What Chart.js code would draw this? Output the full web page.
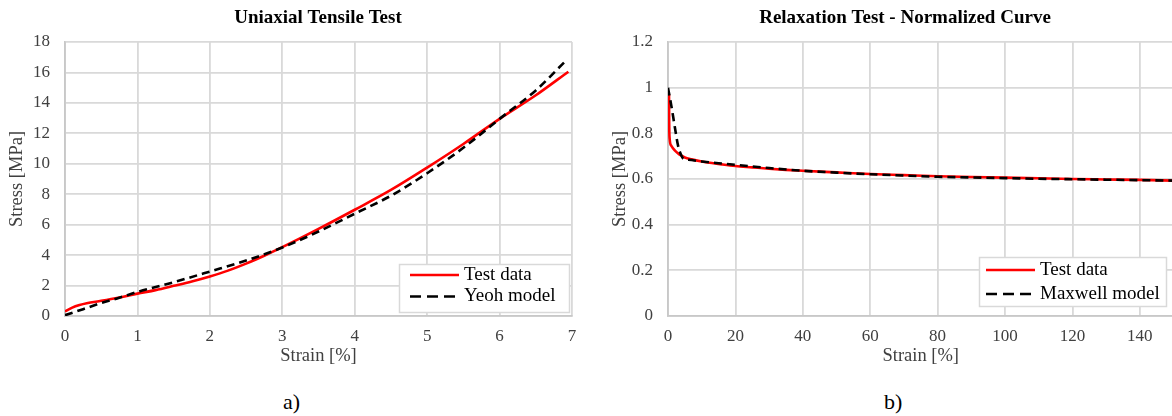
<!DOCTYPE html>
<html lang="en">
<head>
<meta charset="UTF-8">
<title>Uniaxial Tensile Test / Relaxation Test</title>
<style>
  body { margin: 0; background: #fff; overflow: hidden; width: 1172px; height: 416px; position: relative; }
  canvas { position: absolute; top: 0; }
  #tensile { left: 0; }
  #relax { left: 600px; }
  .cap { position: absolute; top: 390px; font: 22px "Liberation Serif", serif; line-height: 24px; color: #000; }
</style>
</head>
<body>
<canvas id="tensile" width="636" height="380"></canvas>
<canvas id="relax" width="610" height="380"></canvas>
<div class="cap" style="left:283px">a)</div>
<div class="cap" style="left:884px">b)</div>

<script src="https://cdn.jsdelivr.net/npm/chart.js"></script>
<script>
  // a) uniaxial tensile test
  const tensileStrain = [0, 0.1, 0.2, 0.3, 0.5, 0.75, 1.0, 1.25, 1.5, 1.75, 2.0, 2.25, 2.5, 2.75, 3.0, 3.5, 4.0, 4.5, 5.0, 5.5, 6.0, 6.5, 6.95];
  const tensileTest   = [0.3, 0.55, 0.72, 0.84, 1.0, 1.22, 1.47, 1.7, 1.98, 2.27, 2.6, 2.98, 3.44, 3.96, 4.52, 5.72, 6.98, 8.28, 9.75, 11.3, 12.95, 14.5, 16.05];
  const yeohStrain    = [0, 0.25, 0.5, 0.75, 1.0, 1.5, 2.0, 2.5, 3.0, 3.5, 4.0, 4.5, 5.0, 5.5, 6.0, 6.5, 6.9];
  const yeohStress    = [0.05, 0.45, 0.85, 1.2, 1.58, 2.22, 2.92, 3.64, 4.5, 5.55, 6.72, 7.9, 9.38, 11.05, 12.95, 14.82, 16.7];

  // b) relaxation test, normalized
  const relaxStrain   = [0.3, 0.35, 0.5, 1, 2, 3, 4, 5, 7, 10, 13, 16, 20, 25, 30, 35, 40, 50, 60, 70, 80, 90, 100, 110, 120, 130, 140, 150];
  const relaxTest     = [0.97, 0.85, 0.775, 0.745, 0.725, 0.712, 0.702, 0.694, 0.686, 0.677, 0.67, 0.664, 0.657, 0.651, 0.645, 0.64, 0.636, 0.629, 0.622, 0.617, 0.612, 0.609, 0.606, 0.603, 0.6, 0.598, 0.596, 0.593];
  const maxwellStrain = [0, 1, 2, 3, 4, 4.6, 6, 10, 15, 20, 25, 30, 40, 50, 60, 70, 80, 90, 100, 110, 120, 130, 140, 150];
  const maxwellStress = [1.0, 0.92, 0.83, 0.745, 0.702, 0.688, 0.684, 0.677, 0.669, 0.662, 0.655, 0.648, 0.636, 0.628, 0.621, 0.615, 0.61, 0.607, 0.604, 0.601, 0.599, 0.597, 0.595, 0.593];

  const serif = '"Liberation Serif", "Times New Roman", serif';
  const gridColor = '#d9d9d9';
  const tickColor = '#404040';

  const pts = (xs, ys) => xs.map((x, i) => ({ x: x, y: ys[i] }));

  // legend box drawn inside the plot, bottom right, like the Excel original
  const boxLegend = {
    id: 'boxLegend',
    afterDatasetsDraw(chart, args, o) {
      const { ctx, chartArea } = chart;
      const x = Math.round(chartArea.right - o.right - o.width);
      const y = Math.round(chartArea.bottom - o.bottom - o.height);
      ctx.save();
      ctx.fillStyle = '#fff';
      ctx.fillRect(x, y, o.width, o.height);
      ctx.strokeStyle = gridColor;
      ctx.lineWidth = 1.5;
      ctx.strokeRect(x + 0.5, y + 0.5, o.width, o.height);
      ctx.font = '19px ' + serif;
      ctx.textBaseline = 'middle';
      o.rows.forEach((ry, i) => {
        const ds = chart.data.datasets[i];
        ctx.beginPath();
        ctx.strokeStyle = ds.borderColor;
        ctx.lineWidth = ds.borderWidth;
        ctx.setLineDash(ds.borderDash ? [11, 6] : []);
        ctx.moveTo(x + o.lineStart, y + ry);
        ctx.lineTo(x + o.lineEnd, y + ry);
        ctx.stroke();
        ctx.setLineDash([]);
        ctx.fillStyle = '#000';
        ctx.fillText(ds.label, x + o.textX, y + ry);
      });
      ctx.restore();
    }
  };

  function makeChart(id, cfg) {
    return new Chart(document.getElementById(id), {
      type: 'scatter',
      data: {
        datasets: [{
          label: 'Test data',
          data: cfg.test,
          showLine: true,
          borderColor: '#ff0000',
          borderWidth: 2.6,
          pointRadius: 0,
          cubicInterpolationMode: 'monotone',
          order: 2
        }, {
          label: cfg.modelLabel,
          data: cfg.model,
          showLine: true,
          borderColor: '#000000',
          borderWidth: 2.6,
          borderDash: [8, 5],
          pointRadius: 0,
          cubicInterpolationMode: 'monotone',
          order: 1
        }]
      },
      plugins: [boxLegend],
      options: {
        responsive: false,
        animation: false,
        layout: { padding: 0 },
        plugins: {
          legend: { display: false },
          tooltip: { enabled: false },
          title: {
            display: true,
            text: cfg.title,
            color: '#000',
            font: { family: serif, size: 19, weight: 'bold', lineHeight: 1.2 },
            padding: { top: 7, bottom: 12.2 }
          },
          boxLegend: cfg.legend
        },
        scales: {
          x: {
            type: 'linear',
            min: 0,
            max: cfg.xMax,
            afterFit: s => { s.height = 64; },
            grid: { color: gridColor, lineWidth: 1.8, drawTicks: false },
            border: { color: '#c8c8c8', width: 1.8 },
            ticks: { stepSize: cfg.xStep, includeBounds: false, padding: 10, color: tickColor, font: { family: serif, size: 17 } },
            title: { display: true, text: 'Strain [%]', color: tickColor, font: { family: serif, size: 18.5 }, padding: { top: 0, bottom: 13 } }
          },
          y: {
            min: 0,
            max: cfg.yMax,
            afterFit: s => { s.width = cfg.yWidth; },
            grid: { color: gridColor, lineWidth: 1.8, drawTicks: false },
            border: { color: '#c8c8c8', width: 1.8 },
            ticks: {
              stepSize: cfg.yStep,
              padding: 15,
              color: tickColor,
              font: { family: serif, size: 17 },
              callback: v => String(Math.round(v * 10) / 10)
            },
            title: { display: true, text: 'Stress [MPa]', color: tickColor, font: { family: serif, size: 18.5 }, padding: { top: cfg.yTitlePad, bottom: 0 } }
          },
          // empty spacer on the right so the title stays centred on the canvas
          spacer: {
            type: 'linear',
            position: 'right',
            afterFit: s => { s.width = cfg.padRight; },
            grid: { display: false },
            border: { display: false },
            ticks: { display: false }
          }
        }
      }
    });
  }

  makeChart('tensile', {
    title: 'Uniaxial Tensile Test',
    modelLabel: 'Yeoh model',
    test: pts(tensileStrain, tensileTest),
    model: pts(yeohStrain, yeohStress),
    xMax: 7, xStep: 1, yMax: 18, yStep: 2,
    yWidth: 65, padRight: 64, yTitlePad: 6,
    legend: { width: 170, height: 48, right: 3, bottom: 4, rows: [11, 32.5], lineStart: 11, lineEnd: 60, textX: 65 }
  });

  makeChart('relax', {
    title: 'Relaxation Test - Normalized Curve',
    modelLabel: 'Maxwell model',
    test: pts(relaxStrain, relaxTest),
    model: pts(maxwellStrain, maxwellStress),
    xMax: 150, xStep: 20, yMax: 1.2, yStep: 0.2,
    yWidth: 68, padRight: 36.5, yTitlePad: 9,
    legend: { width: 187, height: 49, right: 8, bottom: 10, rows: [13, 37], lineStart: 7, lineEnd: 56, textX: 61 }
  });
</script>
</body>
</html>
